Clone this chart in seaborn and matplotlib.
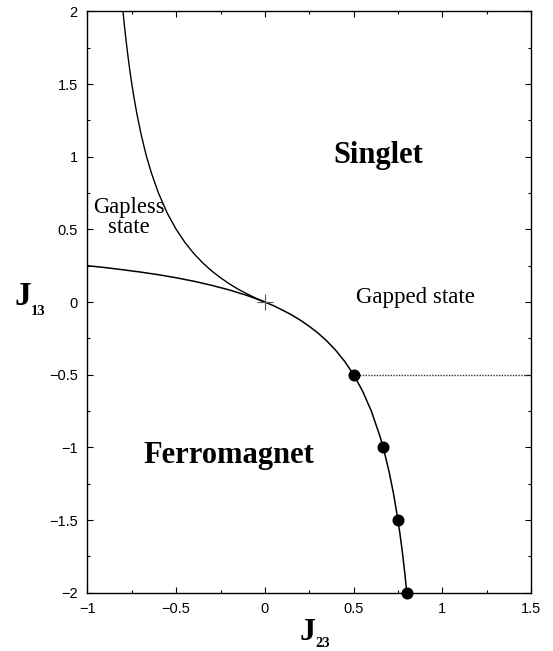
import matplotlib
matplotlib.use("Agg")
import matplotlib.pyplot as plt
import seaborn as sns
import pandas as pd
from matplotlib.ticker import MultipleLocator

# ---- data ----
# ferromagnet boundary (lower curve), J23 vs J13
lower_j23 = [-1.0, -0.9, -0.8, -0.7, -0.6, -0.5, -0.4, -0.3, -0.2, -0.1, 0.0,
             0.05, 0.1, 0.15, 0.2, 0.25, 0.3, 0.35, 0.4, 0.45, 0.5, 0.55, 0.6,
             0.65, 0.667, 0.7, 0.725, 0.75, 0.7625, 0.775, 0.7875, 0.8]
lower_j13 = [0.25, 0.237, 0.222, 0.206, 0.188, 0.167, 0.143, 0.115, 0.083, 0.045, 0.0,
             -0.026, -0.056, -0.088, -0.125, -0.167, -0.214, -0.269, -0.333, -0.409,
             -0.5, -0.611, -0.75, -0.929, -1.0, -1.167, -1.318, -1.5, -1.605, -1.722,
             -1.853, -2.0]
# gapless boundary (upper curve)
upper_j23 = [-0.8, -0.79, -0.78, -0.77, -0.76, -0.75, -0.74, -0.73, -0.72, -0.7,
             -0.68, -0.667, -0.64, -0.6, -0.55, -0.5, -0.45, -0.4, -0.35, -0.3,
             -0.25, -0.2, -0.15, -0.1, -0.05, 0.0]
upper_j13 = [2.0, 1.881, 1.773, 1.674, 1.583, 1.5, 1.423, 1.352, 1.286, 1.167,
             1.063, 1.0, 0.889, 0.75, 0.611, 0.5, 0.409, 0.333, 0.269, 0.214,
             0.167, 0.125, 0.088, 0.056, 0.026, 0.0]
# computed points
dot_j23 = [0.5, 0.667, 0.75, 0.8]
dot_j13 = [-0.5, -1.0, -1.5, -2.0]
# dotted line (gapped region boundary)
dotted_j23 = [0.5, 1.5]
dotted_j13 = [-0.5, -0.5]
# special point
cross_j23 = [0.0]
cross_j13 = [0.0]

xticks = [-1, -0.5, 0, 0.5, 1, 1.5]
yticks = [-2, -1.5, -1, -0.5, 0, 0.5, 1, 1.5, 2]
xtick_labels = ["\u22121", "\u22120.5", "0", "0.5", "1", "1.5"]
ytick_labels = ["\u22122", "\u22121.5", "\u22121", "\u22120.5", "0", "0.5", "1", "1.5", "2"]

sns.set_theme(style="ticks")
plt.rcParams["font.family"] = ["Liberation Sans", "DejaVu Sans"]
plt.rcParams["text.color"] = "black"

fig = plt.figure(figsize=(5.53, 6.51), dpi=100)
ax = fig.add_axes([0.1582, 0.0896, 0.9602 - 0.1582, 0.9825 - 0.0896])

lower = pd.DataFrame({"J23": lower_j23, "J13": lower_j13})
upper = pd.DataFrame({"J23": upper_j23, "J13": upper_j13})
dots = pd.DataFrame({"J23": dot_j23, "J13": dot_j13})
dotted = pd.DataFrame({"J23": dotted_j23, "J13": dotted_j13})

sns.lineplot(data=lower, x="J23", y="J13", sort=False, estimator=None,
             color="black", linewidth=1.1, ax=ax)
sns.lineplot(data=upper, x="J23", y="J13", sort=False, estimator=None,
             color="black", linewidth=1.0, ax=ax)
sns.lineplot(data=dotted, x="J23", y="J13", sort=False, estimator=None,
             color="#333333", linewidth=1.0, linestyle=(0, (1, 1)), ax=ax)
sns.scatterplot(data=dots, x="J23", y="J13", color="black", s=75,
                edgecolor="black", linewidth=0, ax=ax, zorder=5, clip_on=False)
ax.plot(cross_j23, cross_j13, marker="+", markersize=12, color="#555555",
        markeredgewidth=0.8, linestyle="none")

ax.set_xlim(-1, 1.5)
ax.set_ylim(-2, 2)
ax.set_xlabel("")
ax.set_ylabel("")
ax.set_xticks(xticks)
ax.set_xticklabels(xtick_labels)
ax.set_yticks(yticks)
ax.set_yticklabels(ytick_labels)
ax.xaxis.set_minor_locator(MultipleLocator(0.25))
ax.yaxis.set_minor_locator(MultipleLocator(0.25))
ax.tick_params(which="both", direction="in", top=True, right=True,
               color="black", width=0.8, labelsize=10.5, labelcolor="black")
ax.tick_params(which="major", length=4.5, pad=7)
ax.tick_params(which="minor", length=2.3)
for sp in ax.spines.values():
    sp.set_visible(True)
    sp.set_color("black")
    sp.set_linewidth(1.0)

serif = ["Liberation Serif", "DejaVu Serif"]
ax.text(0.642, 0.956, "Singlet", family=serif, fontweight="bold", fontsize=22,
        ha="center", va="baseline", color="black")
ax.text(-0.205, -1.111, "Ferromagnet", family=serif, fontweight="bold", fontsize=22,
        ha="center", va="baseline", color="black")
ax.text(-0.765, 0.475, "Gapless\nstate", family=serif, fontsize=16.3,
        ha="center", va="baseline", multialignment="center", linespacing=0.95,
        color="black")
ax.text(0.846, -0.01, "Gapped state", family=serif, fontsize=16.5,
        ha="center", va="baseline", color="black")

# axis labels J13 and J23
fig.text(14 / 553, 1 - 305 / 651, "J", family=serif, fontweight="bold", fontsize=24,
         ha="left", va="baseline", color="black")
fig.text(31 / 553, 1 - 315 / 651, "13", family=serif, fontweight="bold", fontsize=10.5,
         ha="left", va="baseline", color="black")
fig.text(300 / 553, 1 - 640 / 651, "J", family=serif, fontweight="bold", fontsize=23,
         ha="left", va="baseline", color="black")
fig.text(315 / 553, 1 - 647 / 651, "23", family=serif, fontweight="bold", fontsize=10.5,
         ha="left", va="baseline", color="black")

fig.savefig("out.png", dpi=100, facecolor="white")
